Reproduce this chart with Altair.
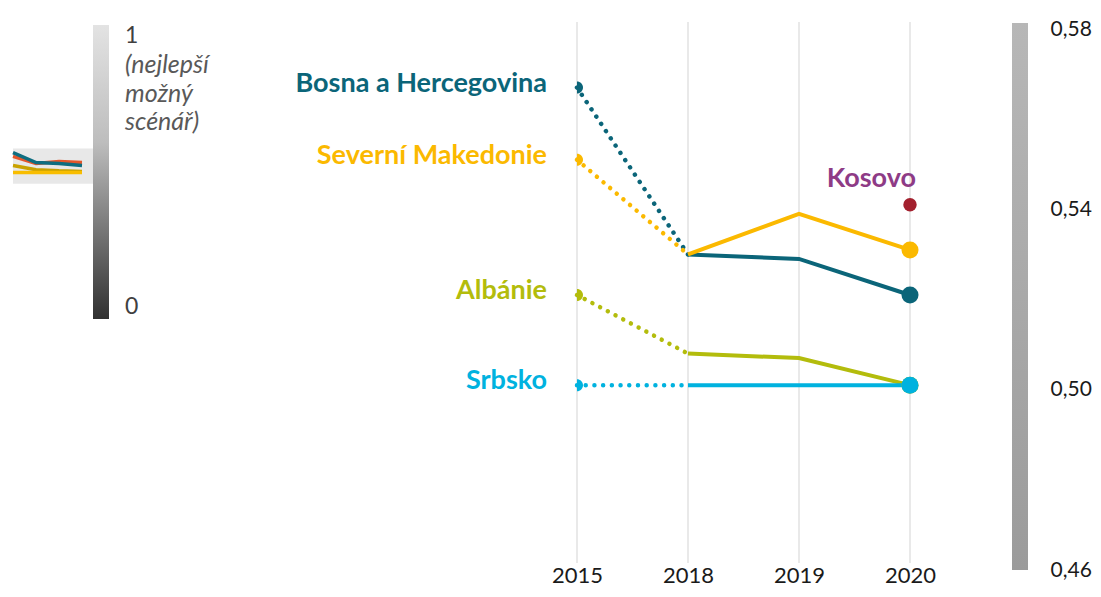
import altair as alt
import pandas as pd

# ---------------- data ----------------
years = ["2015", "2018", "2019", "2020"]
countries = ["Bosna a Hercegovina", "Severní Makedonie", "Albánie", "Srbsko"]
bih = [0.567, 0.530, 0.529, 0.521]
smk = [0.551, 0.530, 0.539, 0.531]
alb = [0.521, 0.508, 0.507, 0.501]
srb = [0.501, 0.501, 0.501, 0.501]
series = [bih, smk, alb, srb]
country_colors = ["#0b6579", "#fbb900", "#b3bc0c", "#00b2df"]

kosovo_name = "Kosovo"
kosovo_year = "2020"
kosovo_value = 0.541

axis_ticks = [0.46, 0.50, 0.54, 0.58]

# small overview icon (position of the 0.46-0.58 band on the 0-1 scale)
thumb_steps = [0, 1, 2, 3]
thumb_names = ["red", "teal", "gold", "yellow"]
thumb_red = [0.553, 0.529, 0.536, 0.532]
thumb_teal = [0.566, 0.532, 0.529, 0.522]
thumb_gold = [0.522, 0.508, 0.504, 0.502]
thumb_yellow = [0.498, 0.498, 0.498, 0.498]
thumb_series = [thumb_red, thumb_teal, thumb_gold, thumb_yellow]
thumb_colors = ["#e4562a", "#0e6d80", "#c9a200", "#f8bd00"]
band_low, band_high = 0.46, 0.58
scale_low, scale_high = 0, 1
scale_note = ["(nejlepší", "možný", "scénář)"]

FONT = "Lato"

# ---------------- tables ----------------
rows = []
for c, vals in zip(countries, series):
    for y, v in zip(years, vals):
        rows.append({"country": c, "year": y, "value": v})
df = pd.DataFrame(rows)
dotted_df = df[df.year.isin(["2015", "2018"])]
solid_df = df[df.year != "2015"]
start_df = df[df.year == "2015"]
end_df = df[df.year == "2020"]
kos_df = pd.DataFrame([{"country": kosovo_name, "year": kosovo_year, "value": kosovo_value}])
years_df = pd.DataFrame({"year": years})

trows = []
for n, vals in zip(thumb_names, thumb_series):
    for s, v in zip(thumb_steps, vals):
        trows.append({"name": n, "step": s, "value": v})
tdf = pd.DataFrame(trows)
one = pd.DataFrame({"k": [0]})

# ---------------- scales / axes ----------------
xs = alt.Scale(type="point", domain=years, range=[569, 902], padding=0)
ys = alt.Scale(domain=[0.46, 0.58], range=[562, 21], zero=False, nice=False)
x_axis = alt.Axis(orient="bottom", domain=False, ticks=False, grid=False,
                  labelFont=FONT, labelFontSize=22, labelColor="#1a1a1a",
                  labelPadding=1, title=None, labelAngle=0)
y_axis = alt.Axis(orient="right", values=axis_ticks, domain=False, ticks=False,
                  grid=False, labelFont=FONT, labelFontSize=21,
                  labelColor="#1a1a1a", labelPadding=1, title=None,
                  labelExpr="replace(format(datum.value, '.2f'), '.', ',')")
X = alt.X("year:O", scale=xs, axis=x_axis)
Y = alt.Y("value:Q", scale=ys, axis=y_axis)
C = alt.Color("country:N", scale=alt.Scale(domain=countries, range=country_colors), legend=None)

# ---------------- main chart ----------------
grid = alt.Chart(years_df).mark_rule(color="#e2e2e2", strokeWidth=1.5).encode(
    x=X, y=alt.value(14), y2=alt.value(555))

dotted = alt.Chart(dotted_df).mark_line(
    strokeWidth=4.5, strokeCap="round", strokeDash=[0.01, 8.7]
).encode(x=X, y=Y, color=C)

solid = alt.Chart(solid_df).mark_line(strokeWidth=4).encode(x=X, y=Y, color=C)

start_pts = alt.Chart(start_df).mark_point(
    shape="M0,-1A1,1,0,0,1,0,1Z", size=144, filled=True, opacity=1
).encode(x=X, y=Y, color=C)

end_pts = alt.Chart(end_df).mark_circle(size=290, opacity=1).encode(x=X, y=Y, color=C)

kos_pt = alt.Chart(kos_df).mark_circle(size=180, opacity=1, color="#a3202e").encode(x=X, y=Y)
kos_lbl = alt.Chart(kos_df).mark_text(
    align="right", baseline="middle", dx=6, dy=-26, color="#8e3b86",
    font=FONT, fontWeight="bold", fontSize=27
).encode(x=X, y=Y, text="country:N")

labels = alt.Chart(start_df).mark_text(
    align="right", baseline="middle", dx=-30, dy=-4,
    font=FONT, fontWeight="bold", fontSize=27
).encode(x=X, y=Y, text="country:N", color=C)

right_bar = alt.Chart(one).mark_rect(
    color=alt.LinearGradient(
        gradient="linear",
        stops=[alt.GradientStop(color="#b7b7b7", offset=0),
               alt.GradientStop(color="#9b9b9b", offset=1)],
        x1=0, x2=0, y1=0, y2=1)
).encode(x=alt.value(1004), x2=alt.value(1020), y=alt.value(15), y2=alt.value(562))

main = alt.layer(grid, dotted, solid, start_pts, end_pts, kos_pt, kos_lbl, labels, right_bar)

# ---------------- overview icon & 0-1 scale ----------------
txs = alt.Scale(domain=[0, 3], range=[5, 74], zero=False, nice=False)
tys = alt.Scale(domain=[0, 1], range=[311, 17], zero=False, nice=False)
band_df = pd.DataFrame({"lo": [band_low], "hi": [band_high]})
bar_df = pd.DataFrame({"lo": [scale_low], "hi": [scale_high]})

box = alt.Chart(band_df).mark_rect(color="#e8e8e8").encode(
    x=alt.value(5), x2=alt.value(86),
    y=alt.Y("lo:Q", scale=tys, axis=None), y2="hi:Q")

tlines = alt.Chart(tdf).mark_line(strokeWidth=3.5).encode(
    x=alt.X("step:Q", scale=txs, axis=None),
    y=alt.Y("value:Q", scale=tys, axis=None),
    color=alt.Color("name:N", scale=alt.Scale(domain=thumb_names, range=thumb_colors), legend=None),
    order=alt.Order("step:Q"))

lbar = alt.Chart(bar_df).mark_rect(
    color=alt.LinearGradient(
        gradient="linear",
        stops=[alt.GradientStop(color="#e3e3e3", offset=0),
               alt.GradientStop(color="#bdbdbd", offset=0.4),
               alt.GradientStop(color="#303030", offset=1)],
        x1=0, x2=0, y1=0, y2=1)
).encode(x=alt.value(85), x2=alt.value(101),
         y=alt.Y("lo:Q", scale=tys, axis=None), y2="hi:Q")

top_df = pd.DataFrame({"v": [scale_high], "t": [str(scale_high)]})
bot_df = pd.DataFrame({"v": [scale_low], "t": [str(scale_low)]})
t1 = alt.Chart(top_df).mark_text(
    align="left", baseline="top", font=FONT, fontSize=23, color="#404040"
).encode(x=alt.value(117), y=alt.Y("v:Q", scale=tys, axis=None), text="t:N")
t0 = alt.Chart(bot_df).mark_text(
    align="left", baseline="bottom", font=FONT, fontSize=23, color="#404040"
).encode(x=alt.value(117), y=alt.Y("v:Q", scale=tys, axis=None), text="t:N")
note = alt.Chart(one).mark_text(
    align="left", baseline="top", font=FONT, fontSize=25, fontStyle="italic",
    color="#595959", lineHeight=28.5, text=scale_note
).encode(x=alt.value(117), y=alt.value(45))

thumb = alt.layer(box, tlines, lbar, t1, t0, note)

chart = alt.layer(main, thumb).resolve_scale(
    x="independent", y="independent", color="independent"
).properties(
    width=1041, height=556,
    padding={"left": 0, "top": 0, "right": 44, "bottom": 25},
    autosize="none"
).configure_view(stroke=None)

chart.save("out.html", embed_options={"renderer": "svg", "actions": False})
